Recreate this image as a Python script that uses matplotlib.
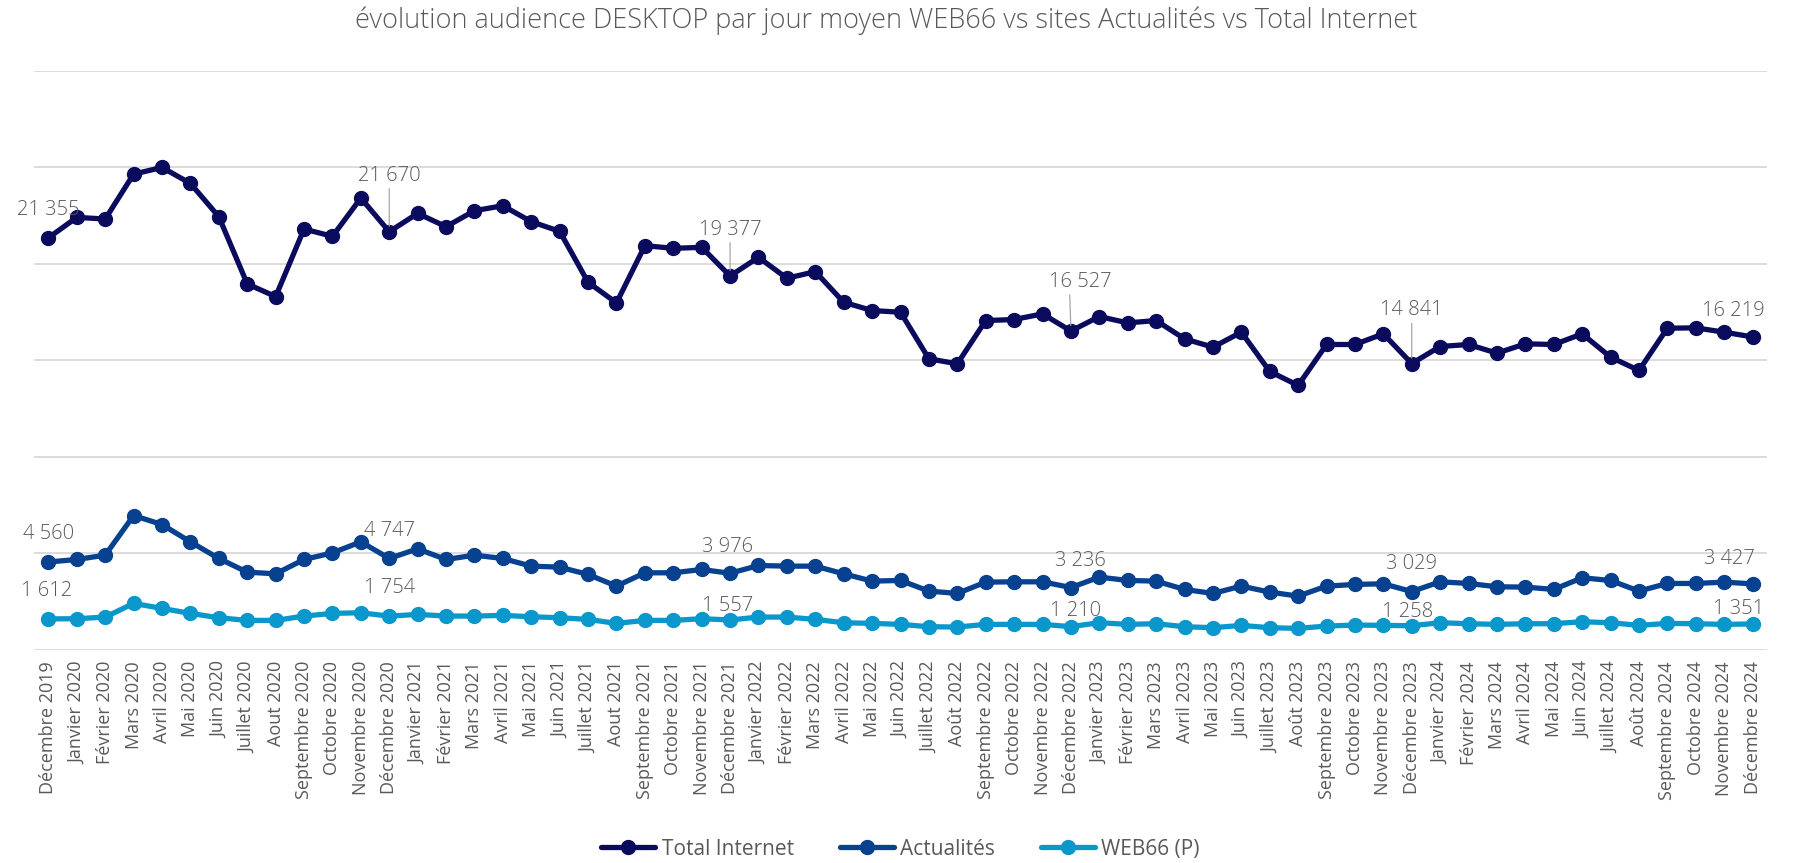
import matplotlib
matplotlib.use("Agg")
import matplotlib.pyplot as plt

plt.rcParams['font.family'] = ['Open Sans', 'DejaVu Sans']

mois = ["Décembre 2019", "Janvier 2020", "Février 2020", "Mars 2020", "Avril 2020", "Mai 2020",
        "Juin 2020", "Juillet 2020", "Aout 2020", "Septembre 2020", "Octobre 2020", "Novembre 2020",
        "Décembre 2020", "Janvier 2021", "Février 2021", "Mars 2021", "Avril 2021", "Mai 2021",
        "Juin 2021", "Juillet 2021", "Aout 2021", "Septembre 2021", "Octobre 2021", "Novembre 2021",
        "Décembre 2021", "Janvier 2022", "Février 2022", "Mars 2022", "Avril 2022", "Mai 2022",
        "Juin 2022", "Juillet 2022", "Août 2022", "Septembre 2022", "Octobre 2022", "Novembre 2022",
        "Décembre 2022", "Janvier 2023", "Février 2023", "Mars 2023", "Avril 2023", "Mai 2023",
        "Juin 2023", "Juillet 2023", "Août 2023", "Septembre 2023", "Octobre 2023", "Novembre 2023",
        "Décembre 2023", "Janvier 2024", "Février 2024", "Mars 2024", "Avril 2024", "Mai 2024",
        "Juin 2024", "Juillet 2024", "Août 2024", "Septembre 2024", "Octobre 2024", "Novembre 2024",
        "Décembre 2024"]

total_internet = [21355, 22414, 22328, 24655, 25000, 24172, 22448, 18966, 18310, 21810, 21431, 23414,
                  21670, 22621, 21931, 22759, 23017, 22190, 21690, 19052, 17983, 20948, 20810, 20862,
                  19377, 20345, 19259, 19603, 18017, 17586, 17500, 15086, 14828, 17069, 17121, 17414,
                  16527, 17276, 16948, 17069, 16121, 15690, 16466, 14431, 13707, 15828, 15828, 16379,
                  14841, 15724, 15828, 15379, 15862, 15828, 16379, 15172, 14483, 16672, 16690, 16466,
                  16219]

actualites = [4560, 4690, 4914, 6966, 6500, 5603, 4741, 4034, 3948, 4690, 5034, 5603,
              4747, 5241, 4690, 4914, 4741, 4345, 4293, 3914, 3310, 4000, 4000, 4172,
              3976, 4379, 4345, 4345, 3948, 3569, 3603, 3052, 2931, 3517, 3534, 3534,
              3236, 3776, 3603, 3569, 3138, 2931, 3310, 3000, 2793, 3310, 3397, 3431,
              3029, 3534, 3448, 3276, 3259, 3138, 3741, 3603, 3052, 3448, 3448, 3517,
              3427]

web66 = [1612, 1621, 1707, 2414, 2155, 1897, 1672, 1534, 1534, 1759, 1897, 1931,
         1754, 1845, 1759, 1759, 1793, 1724, 1672, 1586, 1379, 1534, 1534, 1621,
         1557, 1707, 1707, 1586, 1414, 1379, 1328, 1207, 1190, 1328, 1328, 1328,
         1210, 1414, 1328, 1362, 1207, 1155, 1276, 1155, 1121, 1241, 1293, 1276,
         1258, 1414, 1362, 1328, 1362, 1362, 1466, 1414, 1276, 1379, 1362, 1328,
         1351]

# index des points étiquetés (chaque décembre)
labels_idx = [0, 12, 24, 36, 48, 60]

gris = "#595959"
fig = plt.figure(figsize=(18.01, 8.63), dpi=100)
ax = fig.add_axes([0.019, 0.2468, 0.962, 0.671])

x = list(range(len(mois)))
series = [("Total Internet", total_internet, "#0b0b5e"),
          ("Actualités", actualites, "#07418f"),
          ("WEB66 (P)", web66, "#0a98cc")]
for nom, vals, col in series:
    ax.plot(x, vals, color=col, lw=3.8, marker="o", markersize=10, label=nom,
            solid_capstyle="round")

# décalages des étiquettes (points)
off_ti = [(0, 20), (0, 33), (0, 26), (7, 28), (0, 31), (-14, 19)]
off_ac = [(0, 20), (0, 20), (-2, 19), (7, 19), (0, 20), (-17, 18)]
off_wb = [(-1, 20), (0, 20), (-2, 10), (3, 11), (-3, 10), (-10, 11)]
leader = [12, 24, 36, 48]

for vals, offs, lead in [(total_internet, off_ti, leader), (actualites, off_ac, []), (web66, off_wb, [])]:
    for k, i in enumerate(labels_idx):
        txt = f"{vals[i]:,}".replace(",", " ")
        if i in lead:
            ax.annotate(txt, (i, vals[i]), xytext=offs[k], textcoords="offset points",
                        ha="center", va="bottom", fontsize=14.5, color=gris, fontweight="light",
                        arrowprops=dict(arrowstyle="-", color="#a6a6a6", lw=0.9,
                                        shrinkA=0, shrinkB=4, relpos=(0.5 - offs[k][0] / 40, 0)))
        else:
            ax.annotate(txt, (i, vals[i]), xytext=offs[k], textcoords="offset points",
                        ha="center", va="center", fontsize=14.5, color=gris, fontweight="light")

ax.set_ylim(0, 30000)
ax.set_yticks(range(0, 30001, 5000))
ax.set_xlim(-0.5, len(mois) - 0.5)
ax.grid(axis="y", color="#d9d9d9", lw=1.3)
ax.set_axisbelow(True)
for s in ax.spines.values():
    s.set_visible(False)
ax.tick_params(axis="y", left=False, labelleft=False)
ax.tick_params(axis="x", length=0, pad=8)
ax.set_xticks(x)
ax.set_xticklabels(mois, rotation=90, fontsize=13, color=gris)

fig.suptitle("évolution audience DESKTOP par jour moyen WEB66 vs sites Actualités vs Total Internet",
             x=0.492, y=0.993, fontsize=19.5, color=gris, fontweight="light")

leg = fig.legend(loc="lower center", bbox_to_anchor=(0.5, -0.018), ncol=3, frameon=False,
                 fontsize=15, handlelength=2.6, handletextpad=0.3, columnspacing=2.2)
for t in leg.get_texts():
    t.set_color(gris)

fig.savefig("out.png", dpi=100)
